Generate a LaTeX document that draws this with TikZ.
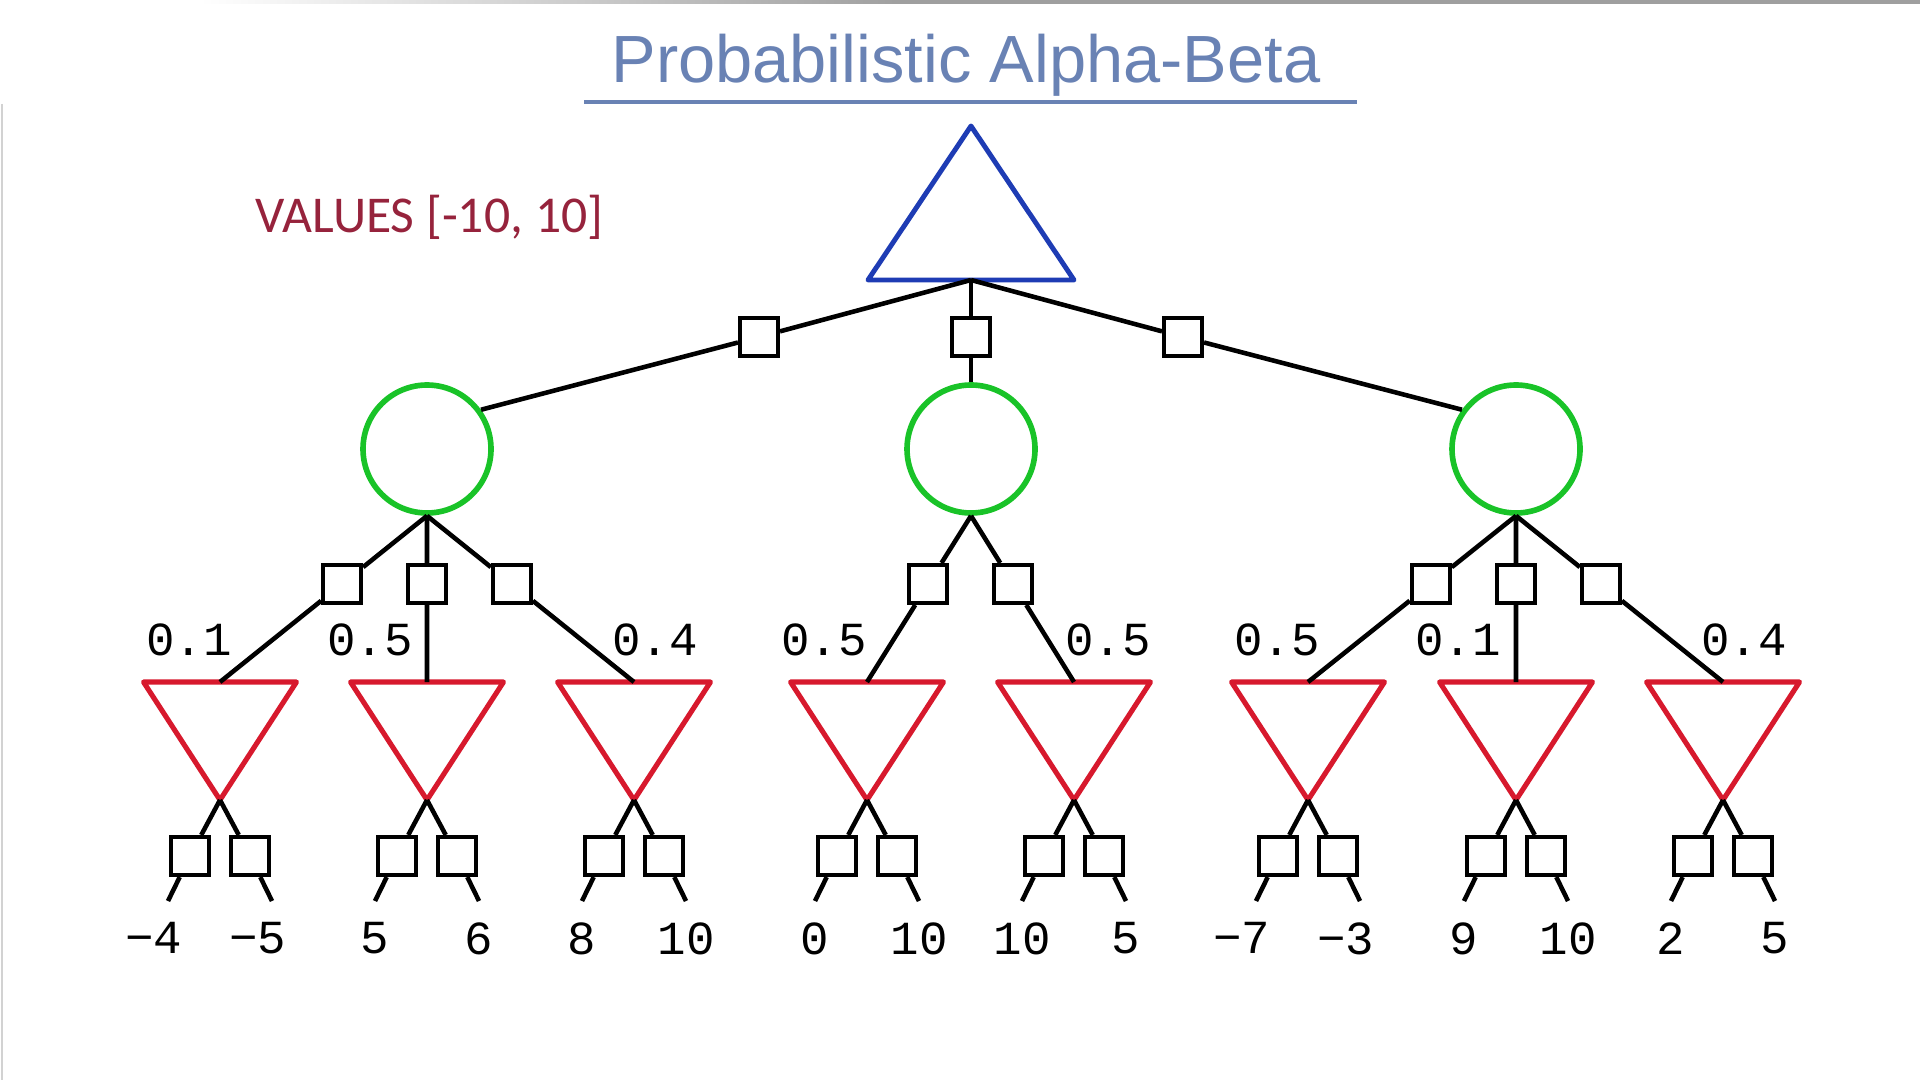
\documentclass[tikz,border=0pt]{standalone}
\usepackage{fontspec}
\usepackage{xcolor}
\usepackage{tikz}
\usetikzlibrary{positioning, calc}

\setmainfont{Liberation Sans}
\newfontfamily\slidefont{Carlito}
\newfontfamily\treefont{Liberation Mono}

\definecolor{maxblue}{RGB}{30,60,180}
\definecolor{avggreen}{RGB}{25,195,40}
\definecolor{minred}{RGB}{215,25,45}
\definecolor{rangered}{RGB}{150,35,60}
\definecolor{titleblue}{RGB}{105,130,180}

\begin{document}
\begin{tikzpicture}[
    bound/.style={rectangle, draw, fill=white, line width=1.15pt, minimum size=0.38cm, inner sep=0},
    chance/.style={circle, draw=avggreen, line width=1.6pt, minimum size=1.28cm, inner sep=0},
    branch/.style={line width=1.3pt},
    prob/.style={font=\treefont\fontsize{13.5}{13.5}\selectfont, inner sep=0},
    leafval/.style={font=\treefont\fontsize{13.5}{13.5}\selectfont, inner sep=0},
    maxtri/.style={draw=maxblue, line width=1.4pt, line join=round},
    mintri/.style={draw=minred, line width=1.45pt, line join=round}
]
    \useasboundingbox (0,0) rectangle (19.2,-10.8);

    % Slide edges
    \shade[left color=white, right color=gray!75] (2.0,0) rectangle (9.0,-0.04);
    \fill[gray!75] (9.0,0) rectangle (19.2,-0.04);
    \draw[gray!35, line width=0.6pt] (0.02,-1.04) -- (0.02,-10.8);

    % Title
    \node (title) [anchor=base, text=titleblue, font=\fontsize{19}{19}\selectfont] at (9.66,-0.83) {Probabilistic Alpha-Beta};
    \coordinate (ulinel) at (5.84,-1.02);
    \coordinate (uliner) at (13.57,-1.02);
    \draw[titleblue, line width=1.1pt] (ulinel) -- (uliner);

    \node (range) [anchor=base west, text=rangered, font=\slidefont\fontsize{14.7}{14.7}\selectfont, inner sep=0] at (2.55,-2.33) {VALUES [-10, 10]};

    % Max node
    \coordinate (root) at (9.71,-2.80);
    \draw[maxtri] (root) -- ++(-1.03,0) -- ++(1.03,1.54) -- ++(1.03,-1.54) -- cycle;

    % Chance nodes
    \node (c1) [chance] at (4.27,-4.49) {};
    \node (c2) [chance] at (9.71,-4.49) {};
    \node (c3) [chance] at (15.16,-4.49) {};

    \node (q1) [bound] at (7.59,-3.37) {};
    \node (q2) [bound] at (9.71,-3.37) {};
    \node (q3) [bound] at (11.83,-3.37) {};

    % Min nodes
    \foreach \i/\x in {1/2.20, 2/4.27, 3/6.34, 4/8.67, 5/10.74, 6/13.08, 7/15.16, 8/17.23} {
        \coordinate (m\i) at (\x,-6.82);
        \coordinate (t\i) at (\x,-8.00);
        \draw[mintri] (m\i) -- ++(-0.765,0) -- ++(0.765,-1.18) -- ++(0.765,1.18) -- cycle;
    }

    \node (q11) [bound] at ($(c1.south)!0.41!(m1)$) {};
    \node (q12) [bound] at ($(c1.south)!0.41!(m2)$) {};
    \node (q13) [bound] at ($(c1.south)!0.41!(m3)$) {};
    \node (q21) [bound] at ($(c2.south)!0.41!(m4)$) {};
    \node (q22) [bound] at ($(c2.south)!0.41!(m5)$) {};
    \node (q31) [bound] at ($(c3.south)!0.41!(m6)$) {};
    \node (q32) [bound] at ($(c3.south)!0.41!(m7)$) {};
    \node (q33) [bound] at ($(c3.south)!0.41!(m8)$) {};

    % Probabilities
    \node (p1) [prob] at (1.89,-6.40) {0.1};
    \node (p2) [prob] at (3.70,-6.40) {0.5};
    \node (p3) [prob] at (6.55,-6.40) {0.4};
    \node (p4) [prob] at (8.24,-6.40) {0.5};
    \node (p5) [prob] at (11.08,-6.40) {0.5};
    \node (p6) [prob] at (12.77,-6.40) {0.5};
    \node (p7) [prob] at (14.58,-6.40) {0.1};
    \node (p8) [prob] at (17.44,-6.40) {0.4};

    % Edges
    \draw[branch] (root) -- (q1) -- (c1.36);
    \draw[branch] (root) -- (q2) -- (c2);
    \draw[branch] (root) -- (q3) -- (c3.144);

    \draw[branch] (c1.south) -- (q11) -- (m1);
    \draw[branch] (c1.south) -- (q12) -- (m2);
    \draw[branch] (c1.south) -- (q13) -- (m3);
    \draw[branch] (c2.south) -- (q21) -- (m4);
    \draw[branch] (c2.south) -- (q22) -- (m5);
    \draw[branch] (c3.south) -- (q31) -- (m6);
    \draw[branch] (c3.south) -- (q32) -- (m7);
    \draw[branch] (c3.south) -- (q33) -- (m8);

    % Leaves
    \foreach \i/\va/\vb in {1/\llap{−}4/\llap{−}5, 2/5/6, 3/8/10, 4/0/10, 5/10/5, 6/\llap{−}7/\llap{−}3, 7/9/10, 8/2/5} {
        \node (la\i) [bound] at ($(t\i)+(-0.30,-0.56)$) {};
        \node (lb\i) [bound] at ($(t\i)+(0.30,-0.56)$) {};
        \coordinate (ea\i) at ($(t\i)+(-0.52,-1.01)$);
        \coordinate (eb\i) at ($(t\i)+(0.52,-1.01)$);
        \draw[branch] (t\i) -- (la\i) -- (ea\i);
        \draw[branch] (t\i) -- (lb\i) -- (eb\i);
        \node (va\i) [leafval, below=0.21cm of ea\i] {\va};
        \node (vb\i) [leafval, below=0.21cm of eb\i] {\vb};
    }
\end{tikzpicture}
\end{document}
